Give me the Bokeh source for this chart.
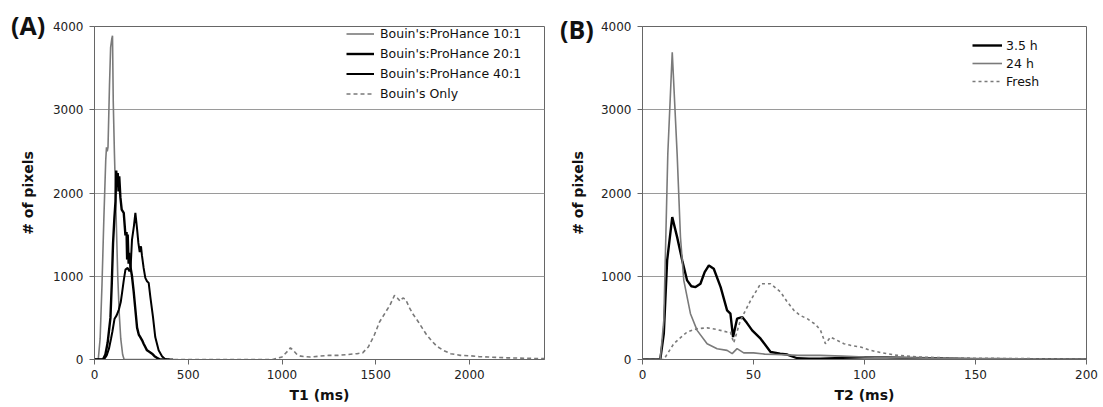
from bokeh.plotting import figure
from bokeh.layouts import row, column
from bokeh.models import Legend, LegendItem, FixedTicker, Range1d, Div
from bokeh.embed import file_html
from bokeh.resources import INLINE

# ---------------- Panel A data (T1, ms) ----------------
t1_10 = [0, 20, 30, 40, 50, 60, 64, 68, 72, 80, 86, 92, 96, 100, 106, 112, 118, 124, 132, 140, 150, 158, 400]
n_10 = [0, 0, 250, 900, 1700, 2400, 2550, 2500, 2550, 3300, 3750, 3850, 3890, 3100, 2500, 2000, 1500, 1000, 550, 250, 60, 0, 0]

t1_20 = [0, 45, 58, 70, 85, 92, 99, 106, 112, 116, 120, 124, 128, 132, 138, 145, 156, 165, 171, 174, 177, 182, 186, 192, 200,
         209, 218, 227, 236, 245, 254, 262, 271, 280, 294, 307, 320, 333, 350, 400]
n_20 = [0, 0, 60, 200, 500, 900, 1400, 1700, 1900, 2270, 2080, 2240, 2020, 2200, 1950, 1800, 1760, 1490, 1530, 1200, 1500, 1150,
        1280, 1110, 1000, 815, 600, 383, 300, 265, 230, 190, 150, 110, 90, 70, 40, 20, 0, 0]

t1_40 = [0, 50, 65, 77, 88, 95, 107, 118, 130, 140, 147, 156, 165, 177, 186, 192, 200, 210, 218, 227, 234, 241, 248, 253,
         262, 271, 280, 289, 298, 312, 324, 342, 360, 378, 420]
n_40 = [0, 0, 50, 130, 250, 330, 490, 530, 600, 690, 800, 950, 1080, 1100, 1060, 1080, 1440, 1600, 1760, 1570, 1400, 1290,
        1360, 1250, 1100, 980, 940, 920, 750, 510, 270, 110, 40, 0, 0]

t1_bo = [350, 600, 900, 950, 1000, 1030, 1045, 1060, 1080, 1100, 1150, 1200, 1250, 1300, 1350, 1400, 1430, 1460, 1490, 1520,
         1550, 1575, 1600, 1615, 1630, 1645, 1660, 1680, 1700, 1725, 1750, 1770, 1800, 1825, 1860, 1900, 1950, 2000, 2050,
         2100, 2200, 2300, 2400]
n_bo = [0, 0, 0, 0, 30, 100, 140, 110, 60, 40, 30, 40, 50, 50, 60, 70, 80, 150, 280, 450, 560, 650, 770, 740, 700, 740, 720,
        620, 540, 460, 370, 300, 220, 160, 110, 70, 50, 45, 35, 30, 20, 15, 10]

labels_a = ["Bouin's:ProHance 10:1", "Bouin's:ProHance 20:1", "Bouin's:ProHance 40:1", "Bouin's Only"]
xticks_a = [0, 500, 1000, 1500, 2000]

# ---------------- Panel B data (T2, ms) ----------------
t2_35 = [0, 8, 9.6, 11.1, 13.4, 15.6, 17.9, 20.1, 22, 23.9, 26.1, 28, 29.9, 32.1, 35.2, 38.1, 39.6, 40.8, 42.6, 44.9, 47,
         49.4, 53.2, 57.7, 62, 65.2, 69.7, 75, 80, 90, 100, 110, 120, 130, 140, 150, 175, 200]
n_35 = [0, 0, 310, 1190, 1710, 1470, 1190, 950, 880, 870, 910, 1050, 1130, 1090, 870, 590, 550, 270, 490, 510, 440, 350,
        250, 90, 70, 60, 15, 10, 10, 20, 25, 25, 20, 15, 10, 5, 5, 0]

t2_24 = [0, 8, 9.6, 11.4, 13.4, 15.6, 17.1, 18.6, 21.6, 24.6, 29.1, 33.6, 38.1, 40.4, 42.6, 45.6, 50, 55, 60, 65, 70, 80,
         90, 100, 110, 120, 140, 160, 180, 200]
n_24 = [0, 0, 470, 2470, 3690, 2470, 1470, 950, 550, 350, 190, 130, 110, 70, 130, 80, 80, 65, 60, 55, 50, 50, 40, 30, 25,
        20, 10, 10, 5, 5]

t2_fr = [0, 9.6, 14.1, 17, 20.1, 24.6, 29.1, 33.6, 38.1, 39.6, 41.1, 44.1, 48.7, 53.2, 57.7, 62.2, 65, 68.2, 71, 74.2, 78,
         80.2, 82.4, 84.7, 90.7, 93.7, 98.2, 102.7, 108, 114.7, 123.8, 138, 150, 175, 200]
n_fr = [0, 0, 190, 260, 330, 370, 380, 360, 330, 330, 200, 470, 710, 910, 910, 810, 700, 590, 530, 490, 420, 350, 190, 270,
        190, 170, 150, 110, 80, 50, 30, 20, 15, 10, 5]

labels_b = ["3.5 h", "24 h", "Fresh"]
xticks_b = [0, 50, 100, 150, 200]
yticks = [0, 1000, 2000, 3000, 4000]

GREY = "#7a7a7a"
BLACK = "#000000"
AX = "#666666"


def style(p, xticks, ylab_standoff):
    p.xgrid.visible = False
    p.ygrid.grid_line_color = "#9a9a9a"
    p.ygrid.grid_line_width = 1
    p.outline_line_color = AX
    p.outline_line_width = 1
    p.background_fill_color = "white"
    p.border_fill_color = "white"
    for ax in [p.xaxis[0], p.yaxis[0]]:
        ax.axis_line_color = AX
        ax.major_tick_line_color = AX
        ax.minor_tick_line_color = None
        ax.major_tick_in = 0
        ax.major_tick_out = 5
        ax.major_label_text_font = "DejaVu Sans"
        ax.major_label_text_font_size = "12px"
        ax.major_label_text_color = "#222222"
        ax.axis_label_text_font = "DejaVu Sans"
        ax.axis_label_text_font_style = "bold"
        ax.axis_label_text_font_size = "14px"
        ax.axis_label_text_color = "#111111"
    p.xaxis[0].major_label_standoff = 5
    p.xaxis[0].axis_label_standoff = 5
    p.yaxis[0].major_label_standoff = 6
    p.yaxis[0].axis_label_standoff = ylab_standoff
    p.yaxis[0].ticker = FixedTicker(ticks=yticks)
    p.xaxis[0].ticker = FixedTicker(ticks=xticks)


# ---------------- Panel A ----------------
pa = figure(width=555, height=407, output_backend="svg", toolbar_location=None,
            x_range=Range1d(0, 2400), y_range=Range1d(0, 4000),
            x_axis_label="T1 (ms)", y_axis_label="# of pixels",
            min_border_left=94, min_border_right=11, min_border_top=21, min_border_bottom=48)
style(pa, xticks_a, 14)

ra1 = pa.line(t1_10, n_10, line_color=GREY, line_width=1.6)
ra2 = pa.line(t1_20, n_20, line_color=BLACK, line_width=2.4)
ra3 = pa.line(t1_40, n_40, line_color=BLACK, line_width=2.0)
ra4 = pa.line(t1_bo, n_bo, line_color=GREY, line_width=1.6, line_dash="4 3")

leg_a = Legend(items=[LegendItem(label=labels_a[0], renderers=[ra1]),
                      LegendItem(label=labels_a[1], renderers=[ra2]),
                      LegendItem(label=labels_a[2], renderers=[ra3]),
                      LegendItem(label=labels_a[3], renderers=[ra4])],
               location=(252, 256), border_line_color=None, background_fill_alpha=0,
               label_text_font="DejaVu Sans", label_text_font_size="12.5px", label_text_color="#111111",
               glyph_width=28, glyph_height=19, label_height=19, spacing=1, padding=5, margin=0,
               label_standoff=6)
pa.add_layout(leg_a)

# ---------------- Panel B ----------------
pb = figure(width=548, height=407, output_backend="svg", toolbar_location=None,
            x_range=Range1d(0, 200), y_range=Range1d(0, 4000),
            x_axis_label="T2 (ms)", y_axis_label="# of pixels",
            min_border_left=87, min_border_right=17, min_border_top=26, min_border_bottom=48)
style(pb, xticks_b, 12)

rb1 = pb.line(t2_35, n_35, line_color=BLACK, line_width=2.4)
rb2 = pb.line(t2_24, n_24, line_color=GREY, line_width=1.6)
rb3 = pb.line(t2_fr, n_fr, line_color=GREY, line_width=1.6, line_dash="3 3")

leg_b = Legend(items=[LegendItem(label=labels_b[0], renderers=[rb1]),
                      LegendItem(label=labels_b[1], renderers=[rb2]),
                      LegendItem(label=labels_b[2], renderers=[rb3])],
               location=(330, 269), border_line_color=None, background_fill_alpha=0,
               label_text_font="DejaVu Sans", label_text_font_size="12.5px", label_text_color="#111111",
               glyph_width=30, glyph_height=18, label_height=18, spacing=0, padding=5, margin=0,
               label_standoff=4)
pb.add_layout(leg_b)

# panel letters, overlaid on the page
SPAN = '<span style="font-family:\'Open Sans\'; font-weight:bold; font-size:25px; color:#111111; line-height:normal">{}</span>'
div_a = Div(text=SPAN.format("(A)"),
            styles={"position": "absolute", "left": "6px", "top": "3px", "z-index": "10"})
div_b = Div(text=SPAN.format("(B)"),
            styles={"position": "absolute", "left": "555px", "top": "7px", "z-index": "10"})

layout = column(row(pa, pb, spacing=0), div_a, div_b, spacing=0)
open("out.html", "w").write(file_html(layout, INLINE))
